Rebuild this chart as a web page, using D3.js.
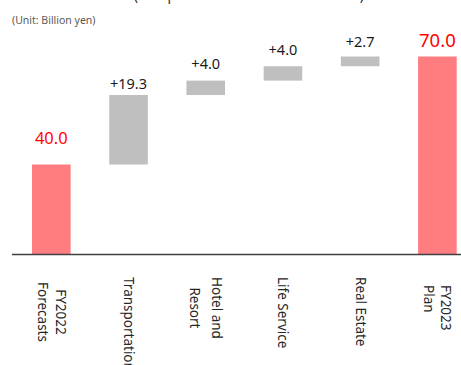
<!DOCTYPE html>
<html>
<head>
<meta charset="utf-8">
<script src="https://cdn.jsdelivr.net/npm/d3@7"></script>
<style>
  body { margin: 0; background: #fff; }
  svg { display: block; font-family: "Noto Sans", "Open Sans", sans-serif; }
</style>
</head>
<body>
<svg width="461" height="365"></svg>
<script>
// chart data
const categories = ["FY2022\nForecasts", "Transportation", "Hotel and\nResort", "Life Service", "Real Estate", "FY2023\nPlan"];
const values = [40.0, 19.3, 4.0, 4.0, 2.7, 70.0];
const kinds = ["total", "delta", "delta", "delta", "delta", "total"];
const valueLabels = ["40.0", "+19.3", "+4.0", "+4.0", "+2.7", "70.0"];

const svg = d3.select("svg");

// waterfall steps
let running = 0;
const steps = categories.map((c, i) => {
    let lo, hi;
    if (kinds[i] === "total") {
        lo = null; hi = values[i]; running = values[i];
    } else {
        lo = running; hi = running + values[i]; running = hi;
    }
    return { cat: c, kind: kinds[i], lo: lo, hi: hi, label: valueLabels[i], i: i };
});

const x = d3.scaleBand().domain(categories).range([12.7, 476]).paddingInner(0.5).paddingOuter(0.25);
// axis does not start at zero in the original
const y = d3.scaleLinear().domain([15, 70]).range([254.5, 56.5]);

// bars
svg.selectAll("rect.bar").data(steps)
    .enter().append("rect")
    .attr("class", "bar")
    .attr("x", d => x(d.cat))
    .attr("width", x.bandwidth())
    .attr("y", d => y(d.hi))
    .attr("height", d => (d.lo === null ? y.range()[0] : y(d.lo)) - y(d.hi))
    .attr("fill", d => d.kind === "total" ? "#FF7C80" : "#BFBFBF");

// baseline
svg.append("line")
    .attr("x1", 12).attr("x2", 461)
    .attr("y1", y.range()[0]).attr("y2", y.range()[0])
    .attr("stroke", "#404040").attr("stroke-width", 1.3);

// value labels
const labelGap = [21, 6, 12, 11, 10, 10];
svg.selectAll("text.val").data(steps)
    .enter().append("text")
    .attr("class", "val")
    .attr("x", d => x(d.cat) + x.bandwidth() / 2)
    .attr("y", d => y(d.hi) - labelGap[d.i])
    .attr("text-anchor", "middle")
    .attr("fill", d => d.kind === "total" ? "#FF0000" : "#1a1a1a")
    .style("font-size", d => d.i === 5 ? "18.5px" : (d.i === 0 ? "16.5px" : "14.5px"))
    .text(d => d.label);

// category labels, rotated
const lineH = [17.5, 17.5, 21.5, 17.5, 17.5, 17];
steps.forEach(d => {
    const lines = d.cat.split("\n");
    const cx = x(d.cat) + x.bandwidth() / 2;
    const g = svg.append("g")
        .attr("transform", `translate(${cx},277) rotate(90)`);
    const t = g.append("text")
        .attr("fill", "#262626")
        .style("font-size", "13.5px");
    lines.forEach((ln, k) => {
        t.append("tspan")
            .attr("x", 0)
            .attr("y", 4.5 + (k - (lines.length - 1) / 2) * lineH[d.i])
            .text(ln);
    });
    // two-line labels: first two centred, the plan label is left aligned
    if (lines.length > 1 && d.i !== 5) {
        const w = d3.max(t.selectAll("tspan").nodes(), n => n.getComputedTextLength());
        t.selectAll("tspan").attr("x", w / 2).attr("text-anchor", "middle");
    }
    if (d.i === 0) g.attr("transform", `translate(${cx},282) rotate(90)`);
    if (d.i === 5) g.attr("transform", `translate(${cx},285) rotate(90)`);
});

// header texts
svg.append("text")
    .attr("x", 249).attr("y", 0)
    .attr("text-anchor", "middle")
    .attr("fill", "#262626")
    .style("font-size", "13.5px")
    .text("(Comparison with FY2022 forecasts )");

svg.append("text")
    .attr("x", 12).attr("y", 24)
    .attr("fill", "#595959")
    .style("font-size", "10.5px")
    .text("(Unit: Billion yen)");
</script>
</body>
</html>
